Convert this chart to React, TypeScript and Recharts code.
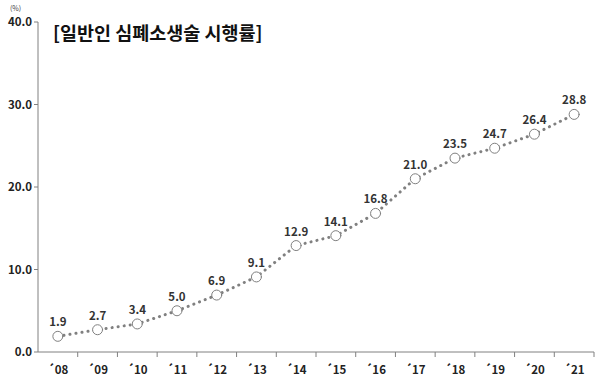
import React from 'react';
import { LineChart, Line, XAxis, YAxis, LabelList } from 'recharts';

const years = ['´08', '´09', '´10', '´11', '´12', '´13', '´14', '´15', '´16', '´17', '´18', '´19', '´20', '´21'];
const rates = [1.9, 2.7, 3.4, 5.0, 6.9, 9.1, 12.9, 14.1, 16.8, 21.0, 23.5, 24.7, 26.4, 28.8];
const yTicks = [0, 10, 20, 30, 40];

const data = years.map((y, i) => ({ year: y, rate: rates[i] }));

const W = 596;
const H = 385;
const M = { top: 22, right: 2, left: 0, bottom: 0 };
const Y_W = 38;
const X_H = 33;
const BAND = (W - M.left - M.right - Y_W) / years.length;
const FONT = '"Noto Sans CJK KR", "Noto Sans", sans-serif';

const XTick = (props: any) => {
  const { x, y, payload } = props;
  return (
    <g>
      <line x1={x + BAND / 2} x2={x + BAND / 2} y1={y - 8} y2={y - 3} stroke="#808080" strokeWidth={1} />
      <text x={x} y={y + 14} textAnchor="middle" fontSize={11.5} fontWeight={700} fill="#222" fontFamily={FONT}>
        {payload.value}
      </text>
    </g>
  );
};

export default function App() {
  return (
    <div style={{ position: 'absolute', left: 0, top: 0, width: W, height: H, background: '#fff' }}>
      <LineChart width={W} height={H} data={data} margin={M}>
        <XAxis
          dataKey="year"
          scale="band"
          height={X_H}
          axisLine={{ stroke: '#808080' }}
          tickLine={false}
          tick={<XTick />}
          interval={0}
        />
        <YAxis
          width={Y_W}
          domain={[0, 40]}
          ticks={yTicks}
          tickFormatter={(v: number) => v.toFixed(1)}
          axisLine={{ stroke: '#808080' }}
          tickLine={{ stroke: '#808080' }}
          tickSize={4}
          tick={{ fontSize: 11.5, fontWeight: 700, fill: '#222', fontFamily: FONT }}
        />
        <Line
          type="linear"
          dataKey="rate"
          stroke="#808080"
          strokeWidth={3}
          strokeDasharray="0.1 6"
          strokeLinecap="round"
          dot={{ r: 5, fill: '#fff', stroke: '#808080', strokeWidth: 1, strokeDasharray: '0' }}
          isAnimationActive={false}
        >
          <LabelList
            dataKey="rate"
            position="top"
            offset={10}
            formatter={(v: number) => v.toFixed(1)}
            style={{ fontSize: 11.5, fontWeight: 700, fill: '#333', fontFamily: FONT }}
          />
        </Line>
      </LineChart>
      <div style={{ position: 'absolute', left: 10, top: 3, fontSize: 7, color: '#444', fontFamily: FONT }}>(%)</div>
      <div
        style={{
          position: 'absolute',
          left: 53,
          top: 19,
          fontSize: 18.5,
          fontWeight: 700,
          color: '#111',
          fontFamily: FONT,
          whiteSpace: 'nowrap',
        }}
      >
        [일반인 심폐소생술 시행률]
      </div>
    </div>
  );
}
